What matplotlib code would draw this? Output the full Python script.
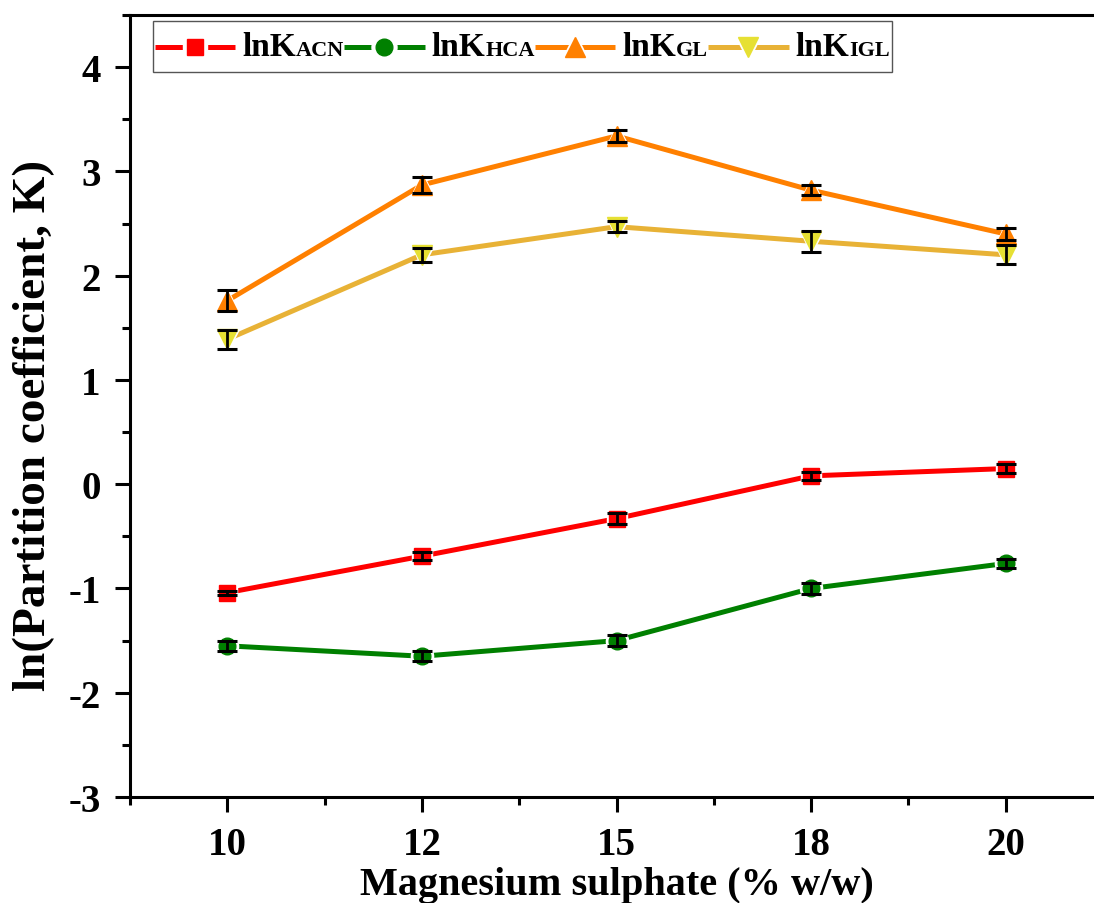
import matplotlib
matplotlib.use("Agg")
import matplotlib.pyplot as plt
from matplotlib.ticker import MultipleLocator, FixedLocator
from matplotlib.lines import Line2D
from matplotlib.offsetbox import DrawingArea, TextArea, HPacker, AnchoredOffsetbox

plt.rcParams['font.family'] = ['Liberation Serif', 'DejaVu Serif']
plt.rcParams['font.weight'] = 'bold'
plt.rcParams['axes.unicode_minus'] = False

concentrations = ['10', '12', '15', '18', '20']

ln_k_acn = [-1.04, -0.69, -0.33, 0.08, 0.15]
ln_k_hca = [-1.55, -1.65, -1.50, -1.00, -0.76]
ln_k_gl = [1.76, 2.87, 3.34, 2.82, 2.40]
ln_k_igl = [1.39, 2.20, 2.47, 2.33, 2.20]

err_acn = [0.02, 0.04, 0.05, 0.04, 0.04]
err_hca = [0.05, 0.05, 0.05, 0.05, 0.04]
err_gl = [0.10, 0.08, 0.06, 0.05, 0.06]
err_igl = [0.09, 0.07, 0.05, 0.10, 0.09]

suffixes = ['ACN', 'HCA', 'GL', 'IGL']

series = [
    (ln_k_acn, err_acn, '#FF0000', '#FF0000', 's', 11),
    (ln_k_hca, err_hca, '#008000', '#008000', 'o', 12),
    (ln_k_gl, err_gl, '#FF8000', '#FF8000', '^', 14),
    (ln_k_igl, err_igl, '#E8B236', '#E6E033', 'v', 14),
]

fig = plt.figure(figsize=(10.94, 9.04), dpi=100)
ax = fig.add_axes([130 / 1094, 1 - 798 / 904, (1103 - 130) / 1094, (798 - 16) / 904])

x = list(range(len(concentrations)))
for vals, errs, lc, mc, mk, ms in series:
    ax.plot(x, vals, '-', color=lc, lw=3.6, zorder=2, solid_capstyle='butt')
    # white halo leaves a small gap between line and marker
    ax.plot(x, vals, mk, ms=ms + 4, color='white', mec='white', zorder=3)
    ax.plot(x, vals, mk, ms=ms, color=mc, mec=mc, zorder=4)
    ax.errorbar(x, vals, yerr=errs, fmt='none', ecolor='black', elinewidth=2,
                capsize=7, capthick=2.2, zorder=5)

ax.set_xlim(-0.5, 4.5)
ax.set_ylim(-3, 4.5)
ax.set_xticks(x)
ax.set_xticklabels(concentrations)
ax.xaxis.set_minor_locator(FixedLocator([-0.5, 0.5, 1.5, 2.5, 3.5]))
ax.yaxis.set_major_locator(FixedLocator([-3, -2, -1, 0, 1, 2, 3, 4]))
ax.yaxis.set_minor_locator(MultipleLocator(0.5))

for s in ax.spines.values():
    s.set_linewidth(2.2)
ax.spines['right'].set_visible(False)

ax.tick_params(which='major', direction='out', length=11, width=2.2,
               labelsize=28, pad=10)
ax.tick_params(which='minor', direction='out', length=6, width=2.2)
ax.tick_params(top=False, right=False, which='both')
for lbl in ax.get_xticklabels() + ax.get_yticklabels():
    lbl.set_fontweight('bold')

ax.set_xlabel('Magnesium sulphate (% w/w)', fontsize=29, fontweight='bold',
              labelpad=2)
ax.set_ylabel('ln(Partition coefficient, K)', fontsize=34, fontweight='bold')
ax.yaxis.set_label_coords(-0.077, 0.477)

# Legend: line-marker handle, "lnK" with a smaller baseline-aligned suffix
entries = []
for (vals, errs, lc, mc, mk, ms), suf in zip(series, suffixes):
    da = DrawingArea(58, 34, 0, 0)
    da.add_artist(Line2D([0, 58], [17, 17], color=lc, lw=3.6,
                         solid_capstyle='butt'))
    da.add_artist(Line2D([29], [17], marker=mk, ms=ms + 6, color='white',
                         mec='white', linestyle='none'))
    da.add_artist(Line2D([29], [17], marker=mk, ms=ms, color=mc, mec=mc,
                         linestyle='none'))
    t_main = TextArea('lnK', textprops=dict(size=24, weight='bold'))
    t_sub = TextArea(suf, textprops=dict(size=16, weight='bold'))
    label = HPacker(children=[t_main, t_sub], align='baseline', pad=0, sep=0)
    entries.append(HPacker(children=[da, label], align='center', pad=0, sep=5))

legend_row = HPacker(children=entries, align='center', pad=0, sep=0)
legend_box = AnchoredOffsetbox(loc='upper left', child=legend_row, pad=0.12,
                               borderpad=0, frameon=True,
                               bbox_to_anchor=(0.0236, 0.992),
                               bbox_transform=ax.transAxes)
legend_box.patch.set_edgecolor('#555555')
legend_box.patch.set_linewidth(1.0)
legend_box.patch.set_boxstyle('square', pad=0)
ax.add_artist(legend_box)

fig.savefig('out.png', dpi=100)
